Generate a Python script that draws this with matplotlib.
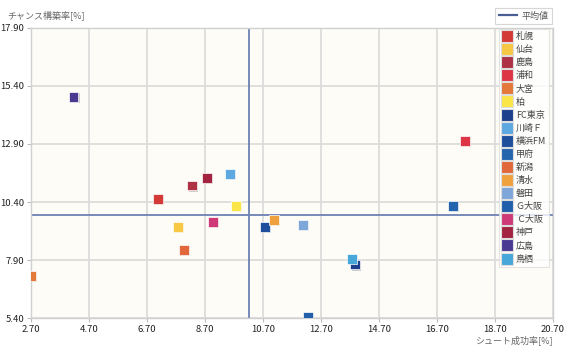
import matplotlib
matplotlib.use("Agg")
import matplotlib.pyplot as plt
import matplotlib.patheffects as pe
from matplotlib.lines import Line2D

plt.rcParams['font.family'] = ['Noto Sans CJK JP', 'DejaVu Sans']

# data
teams = ["札幌", "仙台", "鹿島", "浦和", "大宮", "柏", "FC東京", "川崎Ｆ", "横浜FM",
         "甲府", "新潟", "清水", "磐田", "Ｇ大阪", "Ｃ大阪", "神戸", "広島", "鳥栖"]
shot_rate = [7.07, 7.77, 8.26, 17.67, 2.70, 9.77, 13.87, 9.56, 10.77,
             17.26, 7.97, 11.07, 12.07, 12.26, 8.97, 8.77, 4.17, 13.76]
chance_rate = [10.53, 9.33, 11.12, 13.03, 7.22, 10.22, 7.72, 11.62, 9.33,
               10.23, 8.33, 9.63, 9.41, 5.45, 9.53, 11.44, 14.93, 7.94]
colors = ["#D33A35", "#F7C843", "#AE3145", "#DD3546", "#E4773A", "#FBE64A",
          "#1D3F8C", "#5EA8E2", "#1E4E9C", "#2565AE", "#E0683A", "#EFA13E",
          "#7FA6D9", "#215FAA", "#CE3A78", "#A22440", "#4B3A92", "#46A7D8"]
mean_x = 10.21
mean_y = 9.83

x_ticks = [2.7, 4.7, 6.7, 8.7, 10.7, 12.7, 14.7, 16.7, 18.7, 20.7]
y_ticks = [5.4, 7.9, 10.4, 12.9, 15.4, 17.9]

fig = plt.figure(figsize=(5.71, 3.54), dpi=100)
ax = fig.add_axes([31/571, 1 - 318.3/354, 522/571, 290.6/354])
ax.set_facecolor("#FDFCF6")

ax.set_xlim(2.7, 20.7)
ax.set_ylim(5.4, 17.9)
ax.set_xticks(x_ticks)
ax.set_yticks(y_ticks)
ax.set_xticklabels(["%.2f" % v for v in x_ticks])
ax.set_yticklabels(["%.2f" % v for v in y_ticks])
ax.tick_params(labelsize=6.8, colors="#222222", length=3, width=0.8, pad=2)
ax.tick_params(axis="both", color="#bbbbbb")
ax.grid(True, color="#dcdcdc", linewidth=1.3)
ax.set_axisbelow(True)
for s in ax.spines.values():
    s.set_color("#d0d0d0")
    s.set_linewidth(1.0)

ax.axvline(mean_x, color="#6C82B4", linewidth=1.3, zorder=2)
ax.axhline(mean_y, color="#6C82B4", linewidth=1.3, zorder=2)

handles = []
for t, x, y, c in zip(teams, shot_rate, chance_rate, colors):
    ax.scatter([x], [y], marker="s", s=48, color=c, edgecolors="#ffffff",
               linewidths=0.5, zorder=3,
               path_effects=[pe.SimplePatchShadow(offset=(1, -1), alpha=0.2),
                             pe.Normal()])
    handles.append(Line2D([], [], marker="s", linestyle="", markersize=8.5,
                          markerfacecolor=c, markeredgecolor="#dddddd",
                          markeredgewidth=0.8, label=t))

leg = fig.legend(handles=handles, loc="upper left",
                 bbox_to_anchor=(499/571, 1 - 29/354), fontsize=6.5,
                 frameon=True, fancybox=False, borderpad=0.35,
                 labelspacing=0.45, handlelength=1.0, handletextpad=0.5,
                 borderaxespad=0)
leg.get_frame().set_edgecolor("#dddddd")
leg.get_frame().set_linewidth(0.8)
for txt in leg.get_texts():
    txt.set_color("#444444")

mean_handle = [Line2D([], [], color="#4A5F94", linewidth=1.6, label="平均値")]
leg2 = fig.legend(handles=mean_handle, loc="upper right",
                  bbox_to_anchor=(552/571, 1 - 8/354), fontsize=6.5,
                  frameon=True, fancybox=False, borderpad=0.4,
                  handlelength=2.0, handletextpad=0.5, borderaxespad=0)
leg2.get_frame().set_edgecolor("#cccccc")
leg2.get_frame().set_linewidth(0.8)
leg2.get_texts()[0].set_color("#555555")

fig.text(7/571, 1 - 15/354, "チャンス構築率[%]", fontsize=6.5, color="#666666",
         ha="left", va="center")
fig.text(553/571, 1 - 340/354, "シュート成功率[%]", fontsize=6.5, color="#666666",
         ha="right", va="center")

fig.savefig("out.png", dpi=100)
